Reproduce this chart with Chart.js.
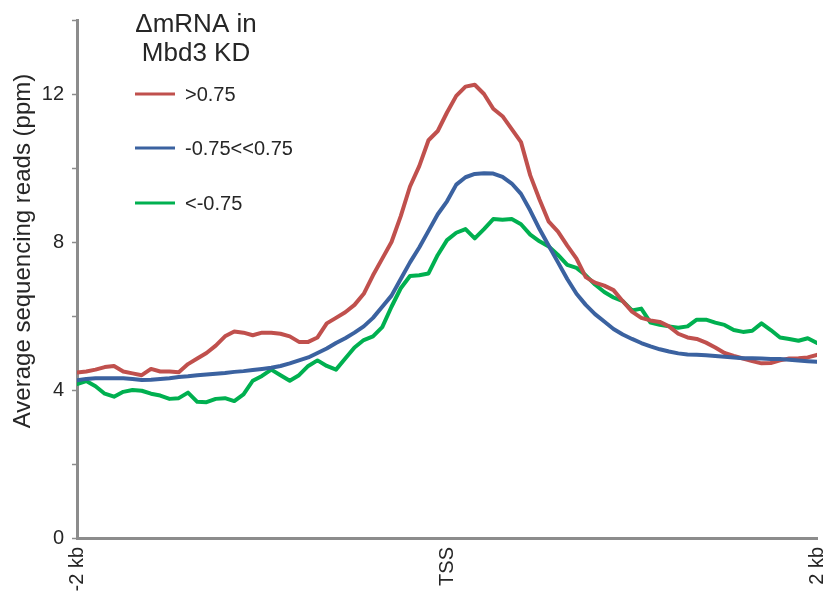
<!DOCTYPE html>
<html>
<head>
<meta charset="utf-8">
<script src="https://cdn.jsdelivr.net/npm/chart.js@4.4.1/dist/chart.umd.min.js"></script>
<style>
  body { margin: 0; background: #fff; }
  #wrap { width: 827px; height: 609px; }
</style>
</head>
<body>
<div id="wrap"><canvas id="profile" width="827" height="609"></canvas></div>
<script>
// Distance from TSS (kb) for each profile bin
const positionKb = [
  -2.00, -1.95, -1.90, -1.85, -1.80, -1.75, -1.70, -1.65, -1.60, -1.55,
  -1.50, -1.45, -1.40, -1.35, -1.30, -1.25, -1.20, -1.15, -1.10, -1.05,
  -1.00, -0.95, -0.90, -0.85, -0.80, -0.75, -0.70, -0.65, -0.60, -0.55,
  -0.50, -0.45, -0.40, -0.35, -0.30, -0.25, -0.20, -0.15, -0.10, -0.05,
   0.00,  0.05,  0.10,  0.15,  0.20,  0.25,  0.30,  0.35,  0.40,  0.45,
   0.50,  0.55,  0.60,  0.65,  0.70,  0.75,  0.80,  0.85,  0.90,  0.95,
   1.00,  1.05,  1.10,  1.15,  1.20,  1.25,  1.30,  1.35,  1.40,  1.45,
   1.50,  1.55,  1.60,  1.65,  1.70,  1.75,  1.80,  1.85,  1.90,  1.95,
   2.00
];

// Average reads (ppm), genes up in Mbd3 KD (>0.75)
const upReads = [
  4.47, 4.50, 4.55, 4.62, 4.65, 4.50, 4.45, 4.40, 4.57, 4.50,
  4.50, 4.48, 4.70, 4.85, 5.00, 5.20, 5.45, 5.58, 5.55, 5.48,
  5.55, 5.55, 5.52, 5.45, 5.30, 5.30, 5.42, 5.80, 5.95, 6.10,
  6.30, 6.60, 7.10, 7.55, 8.00, 8.70, 9.50, 10.05, 10.75, 11.00,
  11.50, 11.95, 12.20, 12.25, 12.00, 11.60, 11.40, 11.05, 10.70, 9.80,
  9.15, 8.55, 8.28, 7.90, 7.55, 7.05, 6.90, 6.82, 6.70, 6.40,
  6.12, 5.95, 5.88, 5.84, 5.72, 5.52, 5.42, 5.38, 5.28, 5.15,
  5.00, 4.92, 4.85, 4.78, 4.72, 4.73, 4.80, 4.85, 4.86, 4.88,
  4.95
];

// Unchanged genes (-0.75..0.75)
const unchangedReads = [
  4.26, 4.30, 4.32, 4.32, 4.32, 4.32, 4.30, 4.27, 4.28, 4.30,
  4.32, 4.35, 4.37, 4.40, 4.42, 4.44, 4.46, 4.49, 4.51, 4.54,
  4.57, 4.60, 4.65, 4.72, 4.80, 4.88, 5.00, 5.12, 5.27, 5.40,
  5.55, 5.72, 5.95, 6.25, 6.55, 7.00, 7.45, 7.85, 8.30, 8.75,
  9.10, 9.55, 9.75, 9.84, 9.86, 9.85, 9.76, 9.58, 9.30, 8.85,
  8.35, 7.90, 7.45, 7.00, 6.60, 6.30, 6.05, 5.85, 5.65, 5.50,
  5.38, 5.27, 5.18, 5.10, 5.04, 4.99, 4.96, 4.95, 4.94, 4.92,
  4.90, 4.88, 4.86, 4.86, 4.85, 4.84, 4.84, 4.82, 4.80, 4.78,
  4.76
];

// Genes down in Mbd3 KD (<-0.75)
const downReads = [
  4.16, 4.24, 4.10, 3.90, 3.82, 3.95, 4.00, 3.98, 3.90, 3.85,
  3.76, 3.78, 3.93, 3.68, 3.67, 3.76, 3.78, 3.70, 3.88, 4.25,
  4.38, 4.55, 4.40, 4.25, 4.40, 4.65, 4.80, 4.65, 4.55, 4.85,
  5.15, 5.35, 5.45, 5.70, 6.25, 6.75, 7.08, 7.10, 7.15, 7.65,
  8.05, 8.25, 8.35, 8.10, 8.35, 8.62, 8.60, 8.62, 8.48, 8.20,
  8.02, 7.88, 7.65, 7.38, 7.30, 7.10, 6.85, 6.65, 6.50, 6.40,
  6.15, 6.20, 5.82, 5.76, 5.72, 5.68, 5.72, 5.90, 5.90, 5.82,
  5.76, 5.62, 5.57, 5.60, 5.80, 5.62, 5.42, 5.38, 5.33, 5.40,
  5.27
];

const seriesLabels = ['>0.75', '-0.75<<0.75', '<-0.75'];
const seriesColors = ['#c0504d', '#3b62a0', '#00b050'];
const xTickLabels = { '-2': '-2 kb', '0': 'TSS', '2': '2 kb' };
const yLabelValues = [0, 4, 8, 12];
const legendTitle = ['\u0394mRNA in', 'Mbd3 KD'];
const yTitle = 'Average sequencing reads (ppm)';

const AXIS_GRAY = '#8c8c8c';
const TEXT = '#262626';
const FONT = '"Liberation Sans", Arial, sans-serif';

function toPoints(values) {
  return values.map((v, i) => ({ x: positionKb[i], y: v }));
}

// Legend block and rotated axis title drawn straight on the canvas
const annotations = {
  id: 'annotations',
  afterDraw(chart) {
    const ctx = chart.ctx;
    ctx.save();
    ctx.fillStyle = TEXT;
    ctx.textBaseline = 'middle';

    ctx.font = '26px ' + FONT;
    ctx.textAlign = 'center';
    ctx.fillText(legendTitle[0], 196, 25);
    ctx.fillText(legendTitle[1], 196, 54);

    ctx.font = '20px ' + FONT;
    ctx.textAlign = 'left';
    const rows = [94, 148, 203];
    chart.data.datasets.forEach((ds, i) => {
      ctx.strokeStyle = ds.borderColor;
      ctx.lineWidth = 3;
      ctx.beginPath();
      ctx.moveTo(135, rows[i]);
      ctx.lineTo(175, rows[i]);
      ctx.stroke();
      ctx.fillText(ds.label, 185, rows[i] + 1);
    });

    ctx.translate(23, 251);
    ctx.rotate(-Math.PI / 2);
    ctx.textAlign = 'center';
    ctx.font = '24px ' + FONT;
    ctx.fillText(yTitle, 0, 0);
    ctx.restore();
  }
};

new Chart(document.getElementById('profile'), {
  type: 'line',
  data: {
    datasets: [
      { label: seriesLabels[0], data: toPoints(upReads), borderColor: seriesColors[0], order: 1 },
      { label: seriesLabels[1], data: toPoints(unchangedReads), borderColor: seriesColors[1], order: 0 },
      { label: seriesLabels[2], data: toPoints(downReads), borderColor: seriesColors[2], order: 2 }
    ]
  },
  options: {
    responsive: false,
    animation: false,
    layout: { padding: { top: 20, right: 10, left: 0, bottom: 0 } },
    elements: {
      line: { borderWidth: 4, tension: 0, borderJoinStyle: 'round', borderCapStyle: 'round', fill: false },
      point: { radius: 0 }
    },
    plugins: {
      legend: { display: false },
      tooltip: { enabled: false }
    },
    scales: {
      x: {
        type: 'linear',
        min: -2,
        max: 2,
        afterFit(scale) {
          // rotated end labels should not squeeze the plot area
          scale.height = 71;
          scale.paddingLeft = 0;
          scale.paddingRight = 0;
        },
        border: { display: true, color: AXIS_GRAY, width: 3 },
        grid: { display: true, drawOnChartArea: false, drawTicks: false },
        ticks: {
          stepSize: 2,
          minRotation: 90,
          maxRotation: 90,
          padding: 9,
          color: TEXT,
          font: { family: FONT, size: 20 },
          callback: (v) => xTickLabels[String(v)] ?? ''
        }
      },
      y: {
        min: 0,
        max: 14,
        afterFit(scale) { scale.width = 77; },
        border: { display: true, color: AXIS_GRAY, width: 3 },
        grid: { drawOnChartArea: false, drawTicks: true, tickLength: 5, tickColor: AXIS_GRAY, tickWidth: 1.5 },
        ticks: {
          stepSize: 2,
          padding: 8,
          color: TEXT,
          font: { family: FONT, size: 20 },
          callback: (v) => yLabelValues.includes(v) ? String(v) : ''
        }
      }
    }
  },
  plugins: [annotations]
});
</script>
</body>
</html>
